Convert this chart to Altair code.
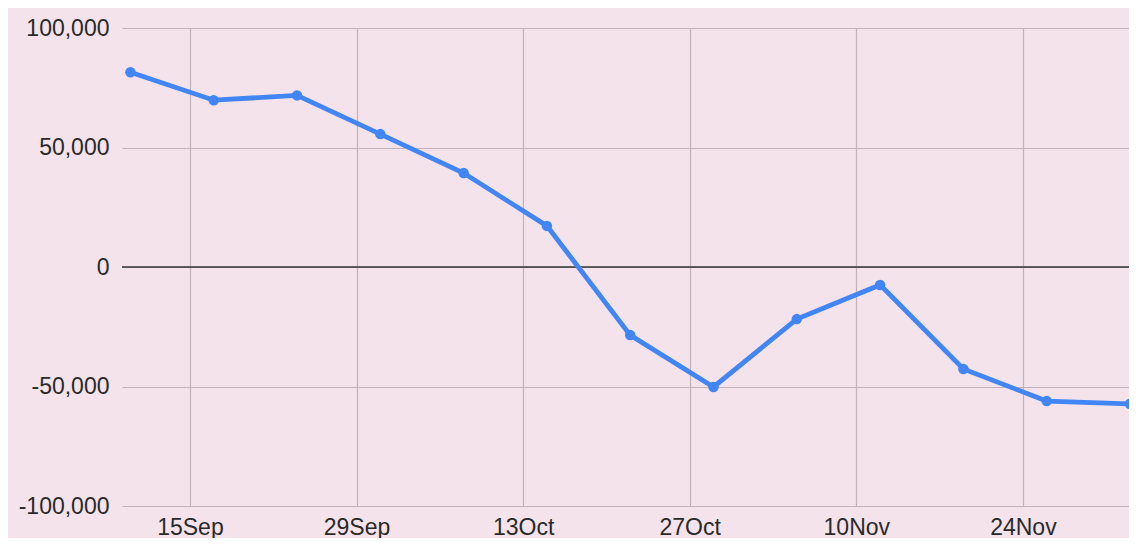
import altair as alt
import pandas as pd

dates = ["2023-09-10", "2023-09-17", "2023-09-24", "2023-10-01", "2023-10-08",
         "2023-10-15", "2023-10-22", "2023-10-29", "2023-11-05", "2023-11-12",
         "2023-11-19", "2023-11-26", "2023-12-03"]
values = [81500, 69800, 71800, 55600, 39300, 17200, -28500, -50200,
          -21800, -7500, -42700, -56100, -57300]
tick_dates = ["2023-09-15", "2023-09-29", "2023-10-13", "2023-10-27",
              "2023-11-10", "2023-11-24"]
y_ticks = [-100000, -50000, 0, 50000, 100000]

df = pd.DataFrame({"date": dates, "value": values})
zero_df = pd.DataFrame({"y": [0]})

BG = "#f4e3eb"
GRID = "#c4b2ba"
LINE = "#4285f4"
FONT = "Liberation Sans"

x_scale = alt.Scale(type="utc", domain=["2023-09-09T07:00:00Z", "2023-12-02T22:00:00Z"])
y_scale = alt.Scale(domain=[-100000, 100000], nice=False)

x_axis = alt.Axis(
    title=None,
    values=[d + "T00:00:00Z" for d in tick_dates],
    labelExpr="utcFormat(datum.value, '%d%b')",
    labelFont=FONT, labelFontSize=23, labelColor="#2a2a2a",
    labelPadding=10, ticks=False, domain=False,
    grid=True, gridColor=GRID, gridWidth=1.2,
)
y_axis = alt.Axis(
    title=None, values=y_ticks,
    labelExpr="replace(format(datum.value, ','), '\u2212', '-')",
    labelFont=FONT, labelFontSize=23, labelColor="#2a2a2a",
    labelPadding=13, ticks=False, domain=False,
    grid=True, gridColor=GRID, gridWidth=1.2,
)

base = alt.Chart(df).encode(
    x=alt.X("date:T", scale=x_scale, axis=x_axis),
    y=alt.Y("value:Q", scale=y_scale, axis=y_axis),
)

zero = alt.Chart(zero_df).mark_rule(color="#333333", strokeWidth=1.5).encode(
    y=alt.Y("y:Q", scale=y_scale, axis=y_axis)
)

line = base.mark_line(color=LINE, strokeWidth=4.8)
points = base.mark_point(filled=True, color=LINE, size=110, opacity=1)

chart = alt.layer(zero, line, points).properties(
    width=1007, height=478,
    background=BG,
    padding={"left": 114, "top": 20, "right": 0, "bottom": 32},
    autosize=alt.AutoSizeParams(type="none"),
).configure_view(stroke=None, fill=BG)

chart.save("out.html", embed_options={"renderer": "svg", "actions": False})
